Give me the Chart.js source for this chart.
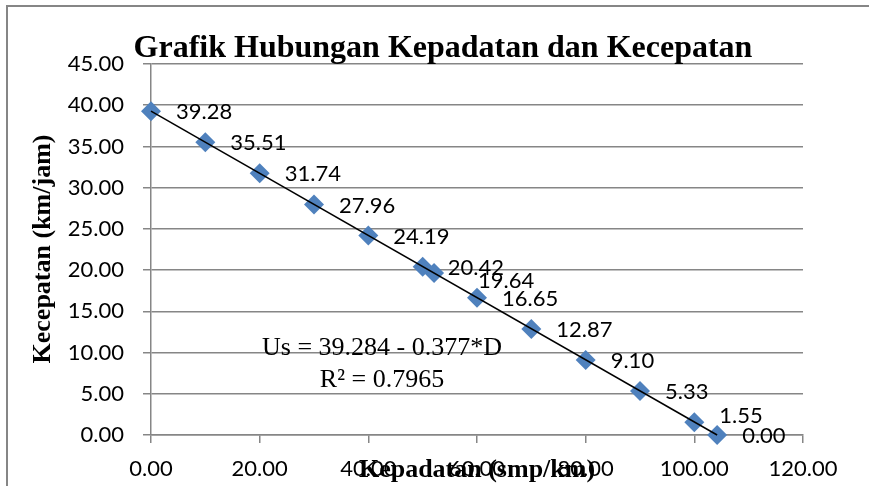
<!DOCTYPE html>
<html>
<head>
<meta charset="utf-8">
<script src="https://cdn.jsdelivr.net/npm/chart.js@4/dist/chart.umd.min.js"></script>
<style>
  html, body { margin: 0; padding: 0; background: #fff; }
</style>
</head>
<body>
<canvas id="grafik" width="869" height="486"></canvas>
<script>
// data grafik kepadatan vs kecepatan
const kepadatan = [0, 10, 20, 30, 40, 50, 52.1, 60, 70, 80, 90, 100, 104.2];
const kecepatan = [39.28, 35.51, 31.74, 27.96, 24.19, 20.42, 19.64, 16.65, 12.87, 9.10, 5.33, 1.55, 0.00];
const garisX = [0, 104.2]; // rentang garis trend
const intersep = 39.284;
const kemiringan = -0.377;
const rKuadrat = 0.7965;
const ticksX = [0, 20, 40, 60, 80, 100, 120];
const ticksY = [0, 5, 10, 15, 20, 25, 30, 35, 40, 45];

const abu = '#868686';
const fontAngka = 'Lato';
const fontSerif = '"Liberation Serif", "Times New Roman", serif';

// geser label yg tabrakan
const geserLabel = { 6: [44, 8], 11: [25, -6] };

const teksTambahan = {
    id: 'teksTambahan',
    beforeDraw(chart) {
        const ctx = chart.ctx;
        ctx.save();
        ctx.fillStyle = '#fff';
        ctx.fillRect(0, 0, chart.width, chart.height);
        ctx.strokeStyle = abu;
        ctx.lineWidth = 2;
        ctx.strokeRect(7, 6, chart.width + 20, chart.height + 20);
        ctx.restore();
    },
    afterDraw(chart) {
        const ctx = chart.ctx;
        const area = chart.chartArea;
        ctx.save();
        ctx.fillStyle = '#000';

        // label nilai
        ctx.font = '22px ' + fontAngka;
        ctx.textAlign = 'left';
        ctx.textBaseline = 'middle';
        chart.getDatasetMeta(1).data.forEach((pt, i) => {
            const g = geserLabel[i] || [25, 1];
            ctx.fillText(kecepatan[i].toFixed(2), pt.x + g[0], pt.y + g[1]);
        });

        // judul
        ctx.font = 'bold 32px ' + fontSerif;
        ctx.textAlign = 'center';
        ctx.textBaseline = 'alphabetic';
        ctx.fillText('Grafik Hubungan Kepadatan dan Kecepatan', 443, 57);

        // judul sumbu
        ctx.font = 'bold 26px ' + fontSerif;
        ctx.textBaseline = 'middle';
        ctx.fillText('Kepadatan (smp/km)', (area.left + area.right) / 2, 470);
        ctx.save();
        ctx.translate(43, 249);
        ctx.rotate(-Math.PI / 2);
        ctx.fillText('Kecepatan (km/jam)', 0, 0);
        ctx.restore();

        // persamaan trend
        ctx.font = '26px ' + fontSerif;
        ctx.textBaseline = 'alphabetic';
        ctx.fillText('Us = ' + intersep.toFixed(3) + ' - ' + Math.abs(kemiringan).toFixed(3) + '*D', 382, 355);
        ctx.fillText('R\u00B2 = ' + rKuadrat.toFixed(4), 382, 387);
        ctx.restore();
    }
};

new Chart(document.getElementById('grafik'), {
    type: 'scatter',
    data: {
        datasets: [{
            type: 'line',
            label: 'trend',
            data: garisX.map(x => ({ x: x, y: intersep + kemiringan * x })),
            borderColor: '#000',
            borderWidth: 1.5,
            pointRadius: 0,
            fill: false,
            clip: false
        }, {
            label: 'Kecepatan',
            data: kepadatan.map((x, i) => ({ x: x, y: kecepatan[i] })),
            pointStyle: 'rectRot',
            pointRadius: 10,
            backgroundColor: '#4F81BD',
            borderColor: '#4F81BD',
            borderWidth: 0,
            clip: false
        }]
    },
    options: {
        responsive: false,
        animation: false,
        layout: { padding: { top: 64, right: 66, bottom: 0, left: 0 } },
        plugins: {
            legend: { display: false },
            tooltip: { enabled: false }
        },
        scales: {
            x: {
                type: 'linear',
                min: 0,
                max: 120,
                afterBuildTicks: s => { s.ticks = ticksX.map(v => ({ value: v })); },
                afterFit: s => { s.height = 51; },
                grid: { drawOnChartArea: false, color: abu, lineWidth: 1.5, tickLength: 8 },
                border: { color: abu, width: 1.5 },
                ticks: {
                    color: '#000',
                    padding: 13,
                    maxRotation: 0,
                    font: { family: fontAngka, size: 22 },
                    callback: v => v.toFixed(2)
                }
            },
            y: {
                min: 0,
                max: 45,
                afterBuildTicks: s => { s.ticks = ticksY.map(v => ({ value: v })); },
                afterFit: s => { s.width = 151; },
                grid: { color: abu, lineWidth: 1.5, tickLength: 8 },
                border: { color: abu, width: 1.5 },
                ticks: {
                    color: '#000',
                    padding: 19,
                    font: { family: fontAngka, size: 22 },
                    callback: v => v.toFixed(2)
                }
            }
        }
    },
    plugins: [teksTambahan]
});
</script>
</body>
</html>
